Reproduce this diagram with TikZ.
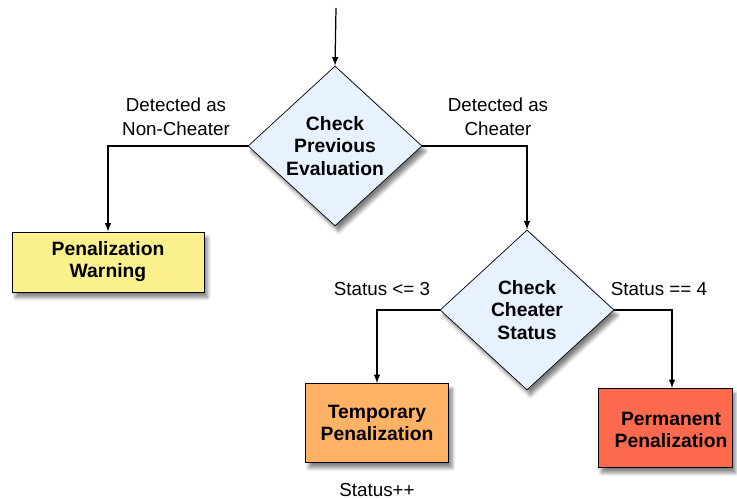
\documentclass[tikz,border=0pt]{standalone}
\usepackage{fontspec}
\setmainfont{Liberation Sans}
\usetikzlibrary{shapes.geometric,shadows.blur}

\definecolor{qblue}{RGB}{232,242,254}
\definecolor{warnyellow}{RGB}{250,240,140}
\definecolor{temporange}{RGB}{253,178,102}
\definecolor{permred}{RGB}{255,106,78}

\tikzset{
  shade box/.style={blur shadow={shadow xshift=2pt, shadow yshift=-3pt, shadow blur steps=6, shadow opacity=50}},
  boxfont/.style={align=center, font=\fontsize{11}{12.5}\selectfont\bfseries},
  decision/.style={draw, diamond, aspect=1.09, inner sep=0pt, fill=qblue, shade box,
    minimum width=3.48cm, minimum height=3.2cm, align=center,
    font=\fontsize{11}{13}\selectfont\bfseries},
  penalty/.style={draw, rectangle, inner sep=0pt, shade box, boxfont},
  branch/.style={align=center, font=\fontsize{10.7}{13.5}\selectfont},
  flow/.style={->, >=latex, line width=0.7pt}
}

\begin{document}
\begin{tikzpicture}[x=0.02cm, y=-0.02cm]
\useasboundingbox (0,0) rectangle (737,499);

\coordinate (start) at (336,8);
\node[decision] (prev) at (335,146) {Check\\Previous\\Evaluation};
\node[decision] (status) at (527,310) {Check\\Cheater\\Status};

\node[penalty, fill=warnyellow, minimum width=3.84cm, minimum height=1.2cm] (warn) at (108,262) {Penalization\\Warning};
\node[penalty, fill=temporange, minimum width=2.86cm, minimum height=1.58cm] (temp) at (377,423) {Temporary\\Penalization};
\node[penalty, fill=permred, minimum width=2.68cm, minimum height=1.58cm] (perm) at (665,428) {};
\node[boxfont, inner sep=0pt] (permtext) at (671,430) {Permanent\\Penalization};

\draw[flow] (start) -- (prev.north);
\draw[flow] (prev.west) -| (warn.north);
\draw[flow] (prev.east) -| (status.north);
\draw[flow] (status.west) -| (temp.north);
\draw[flow] (status.east) -| ([xshift=0.14cm]perm.north);

% branch labels
\node[branch] (lnon) at (176,117) {Detected as\\Non-Cheater};
\node[branch] (lcheat) at (498,117) {Detected as\\Cheater};
\node[branch] (lle) at (382,289) {Status <= 3};
\node[branch] (leq) at (659,289) {Status == 4};
\node[branch] (linc) at (377,490) {Status++};
\end{tikzpicture}
\end{document}
